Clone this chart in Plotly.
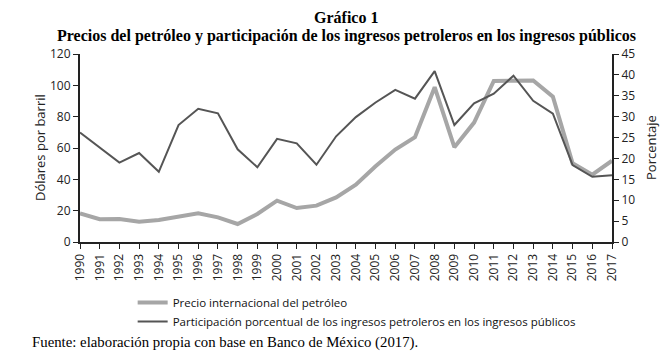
import plotly.graph_objects as go

years = [str(y) for y in range(1990, 2018)]
precio = [18.3, 14.5, 14.7, 12.9, 14.0, 16.2, 18.3, 15.7, 11.5, 17.9,
          26.4, 21.7, 23.2, 28.5, 36.6, 48.3, 59.0, 66.9, 98.8, 60.5,
          76.2, 102.8, 103.1, 103.1, 92.8, 50.2, 43.0, 51.9]
participacion = [26.2, 22.6, 19.0, 21.3, 16.8, 28.0, 31.9, 30.8, 22.2, 17.9,
                 24.7, 23.6, 18.5, 25.3, 29.9, 33.4, 36.4, 34.3, 40.9, 28.0,
                 33.2, 35.5, 39.8, 33.8, 30.7, 18.4, 15.6, 16.0]

left_ticks = [0, 20, 40, 60, 80, 100, 120]
right_ticks = [0, 5, 10, 15, 20, 25, 30, 35, 40, 45]

sans = "Open Sans"
serif = "Liberation Serif"

fig = go.Figure()
fig.add_trace(go.Scatter(x=years, y=precio, mode="lines",
                         name="Precio internacional del petróleo",
                         line=dict(color="#a6a6a6", width=4), yaxis="y"))
fig.add_trace(go.Scatter(x=years, y=participacion, mode="lines",
                         name="Participación porcentual de los ingresos petroleros en los ingresos públicos",
                         line=dict(color="#555555", width=2), yaxis="y2"))

fig.update_layout(
    width=670, height=357,
    margin=dict(l=80, r=58, t=54, b=115, autoexpand=False),
    paper_bgcolor="white", plot_bgcolor="white",
    showlegend=True,
    legend=dict(xref="container", yref="container",
                x=0.198, y=0.193, xanchor="left", yanchor="top",
                font=dict(family=sans, size=11.5, color="#111"),
                bgcolor="rgba(0,0,0,0)", tracegroupgap=0,
                itemwidth=30),
    xaxis=dict(type="category", tickangle=-90, showline=True,
               linecolor="#222", linewidth=2, ticks="outside",
               ticklen=5, tickcolor="#222", showgrid=False,
               tickfont=dict(family=sans, size=12, color="#222")),
    yaxis=dict(range=[0, 120], tickvals=left_ticks, showline=True,
               linecolor="#222", linewidth=2, ticks="outside", ticklen=5,
               tickcolor="#222", showgrid=False, zeroline=False,
               tickfont=dict(family=sans, size=12, color="#222")),
    yaxis2=dict(range=[0, 45], tickvals=right_ticks, overlaying="y",
                side="right", showline=True, linecolor="#222", linewidth=2,
                ticks="outside", ticklen=5, tickcolor="#222",
                showgrid=False, zeroline=False,
                tickfont=dict(family=sans, size=12, color="#222")),
    annotations=[
        dict(text="<b>Gráfico 1</b>", xref="paper", yref="paper",
             x=0.5, y=1.0, yshift=37, xanchor="center", yanchor="middle",
             showarrow=False, font=dict(family=serif, size=16, color="#000")),
        dict(text="<b>Precios del petróleo y participación de los ingresos petroleros en los ingresos públicos</b>",
             xref="paper", yref="paper", x=0.5, y=1.0, yshift=18,
             xanchor="center", yanchor="middle", showarrow=False,
             font=dict(family=serif, size=16, color="#000")),
        dict(text="Fuente: elaboración propia con base en Banco de México (2017).",
             xref="paper", yref="paper", x=0, xshift=-50, y=0, yshift=-100,
             xanchor="left", yanchor="middle", showarrow=False,
             font=dict(family=serif, size=14.8, color="#000")),
        dict(text="Dólares por barril", textangle=-90,
             xref="paper", yref="paper", x=0, xshift=-40, y=0.5,
             xanchor="center", yanchor="middle", showarrow=False,
             font=dict(family=sans, size=13, color="#222")),
        dict(text="Porcentaje", textangle=-90,
             xref="paper", yref="paper", x=1, xshift=39, y=0.5,
             xanchor="center", yanchor="middle", showarrow=False,
             font=dict(family=sans, size=13, color="#222")),
    ],
)

fig.write_html("out.html", config={"displayModeBar": False},
               post_script="document.body.style.margin='0px';")
